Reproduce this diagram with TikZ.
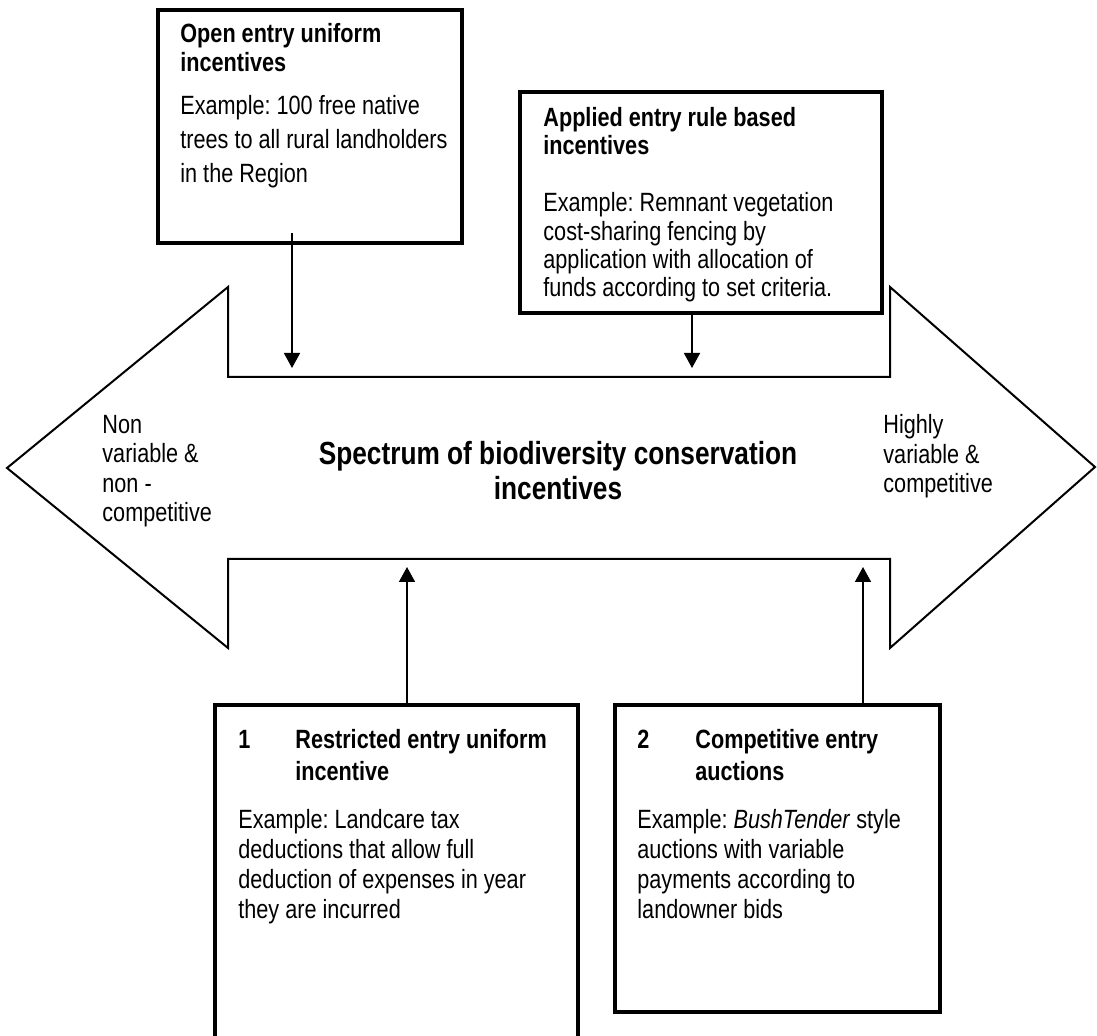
\documentclass[tikz,border=0pt]{standalone}
\usepackage{fontspec}
\IfFontExistsTF{Liberation Sans Narrow}{\setmainfont{Liberation Sans Narrow}}{\setmainfont[FakeStretch=0.82]{Liberation Sans}}
\usetikzlibrary{arrows.meta, fit}
\frenchspacing

\tikzset{
  card/.style={draw, line width=2pt, inner sep=0pt},
  head/.style={anchor=base west, inner sep=0pt, align=left, font=\fontsize{13.2pt}{14.5pt}\selectfont\bfseries},
  body/.style={anchor=base west, inner sep=0pt, align=left, font=\fontsize{13.2pt}{15pt}\selectfont},
  side/.style={anchor=base west, inner sep=0pt, align=left, font=\fontsize{13.2pt}{14.75pt}\selectfont},
  flow/.style={line width=0.8pt, -{Triangle[width=8pt,length=7.5pt]}},
}

\begin{document}
\begin{tikzpicture}[x=0.5pt, y=-0.5pt]
      \useasboundingbox (0,0) rectangle (1097,1036);
      % the spectrum arrow
      \draw[line width=1pt, line join=miter] (7,468) -- (228,287) -- (228,377) -- (890,377) -- (890,287) -- (1095,467)
            -- (890,648) -- (890,559) -- (228,559) -- (228,648) -- cycle;
      \node[anchor=base, align=center, inner sep=0pt, font=\fontsize{16pt}{17.5pt}\selectfont\bfseries] (spec) at (558,500)
            {Spectrum of biodiversity conservation\\incentives};
      \node[side] (low) at (102,522) {Non\\variable \&\\non -\\competitive};
      \node[side] (high) at (883,493) {Highly\\variable \&\\competitive};
      % boxes above
      \node[card, fit={(158,10) (462,243)}] (open) {};
      \node[head] (openhead) at (180,72) {Open entry uniform\\incentives};
      \node[body, font=\fontsize{13.2pt}{17pt}\selectfont] (openbody) at (180,183) {Example: 100 free native\\trees to all rural landholders\\in the Region};
      \node[card, fit={(520,92) (882,313)}] (rule) {};
      \node[head, font=\fontsize{13.2pt}{14pt}\selectfont\bfseries] (rulehead) at (543,155) {Applied entry rule based\\incentives};
      \node[body, font=\fontsize{13.2pt}{14.2pt}\selectfont] (rulebody) at (543,297) {Example: Remnant vegetation\\cost-sharing fencing by\\application with allocation of\\funds according to set criteria.};
      % boxes below
      \node[card, fit={(215,705) (578,1050)}] (restr) {};
      \node[head] (num1) at (238,748) {1};
      \node[head, font=\fontsize{13.2pt}{16pt}\selectfont\bfseries] (restrhead) at (295,780) {Restricted entry uniform\\incentive};
      \node[body] (restrbody) at (238,918) {Example: Landcare tax\\deductions that allow full\\deduction of expenses in year\\they are incurred};
      \node[card, fit={(615,705) (940,1012)}] (auct) {};
      \node[head] (num2) at (637,748) {2};
      \node[head, font=\fontsize{13.2pt}{16pt}\selectfont\bfseries] (aucthead) at (695,780) {Competitive entry\\auctions};
      \node[body] (auctbody) at (637,918) {Example: \textit{BushTender} style\\auctions with variable\\payments according to\\landowner bids};
      % connectors
      \coordinate (t1) at (292,368);
      \coordinate (t2) at (692,368);
      \coordinate (b1) at (407,567);
      \coordinate (b2) at (863,567);
      \draw[flow] ([yshift=6pt]t1 |- open.south) -- (t1);
      \draw[flow] (t2 |- rule.south) -- (t2);
      \draw[flow] (b1 |- restr.north) -- (b1);
      \draw[flow] (b2 |- auct.north) -- (b2);
\end{tikzpicture}
\end{document}
